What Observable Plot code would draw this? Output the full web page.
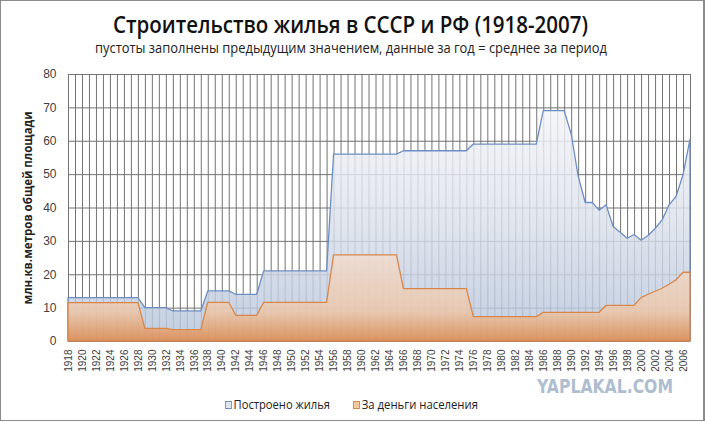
<!DOCTYPE html>
<html><head><meta charset="utf-8">
<script src="https://cdn.jsdelivr.net/npm/d3@7"></script>
<script src="https://cdn.jsdelivr.net/npm/@observablehq/plot@0.6"></script>
<style>
body{margin:0;background:#fff;}
#wrap{position:relative;width:705px;height:422px;overflow:hidden;background:#fff;font-family:"Open Sans","Liberation Sans",sans-serif;}
.abs{position:absolute;white-space:nowrap;line-height:1;}
#border{position:absolute;left:0;top:0;width:705px;height:421px;box-sizing:border-box;border:1px solid #8c8c8c;border-right-width:2px;pointer-events:none;}
.sw{display:inline-block;width:6px;height:6px;vertical-align:0px;margin-right:2px;}
</style></head><body>
<div id="wrap">
  <div id="chart" class="abs" style="left:0;top:0"></div>
  <div class="abs fit" data-x="113" data-w="475" style="top:13px;font-size:23px;font-weight:600;color:#111;">Строительство жилья в СССР и РФ (1918-2007)</div>
  <div class="abs fit" data-x="95" data-w="512" style="top:41px;font-size:14px;color:#222;">пустоты заполнены предыдущим значением,  данные за год = среднее за период</div>
  <div class="abs fit" data-x="225" data-w="105" style="top:398px;font-size:13px;color:#222;"><span class="sw" style="background:#dfe6f1;border:1px solid #6d8ec4"></span>Построено жилья</div>
  <div class="abs fit" data-x="353" data-w="125" style="top:398px;font-size:13px;color:#222;"><span class="sw" style="background:#f6c9a3;border:1px solid #d9864a"></span>За деньги населения</div>
  <div class="abs fit" data-x="537" data-w="136" style="top:377px;font-size:19px;font-weight:bold;color:#aebdd0;font-family:'DejaVu Sans',sans-serif;">YAPLAKAL.COM</div>
  <div id="border"></div>
</div>
<script>
const years = d3.range(1918, 2008);
const built = [
  13,13,13,13,13,13,13,13,13,13,13,          // 1918-1928
  10,10,10,10,                               // 1929-1932
  9,9,9,9,9,                                 // 1933-1937
  15,15,15,15,                               // 1938-1941
  14,14,14,14,                               // 1942-1945
  21,21,21,21,21,21,21,21,21,21,             // 1946-1955
  56,56,56,56,56,56,56,56,56,56,             // 1956-1965
  57,57,57,57,57,57,57,57,57,57,             // 1966-1975
  59,59,59,59,59,59,59,59,59,59,             // 1976-1985
  69,69,69,69,                               // 1986-1989
  62,49.4,41.5,41.5,39.2,40.8,34.3,32.6,30.8,31.9,30.2,31.6,33.7,36.2,40.8,43.3,49.8,60.5 // 1990-2007
];
const population = [
  11.5,11.5,11.5,11.5,11.5,11.5,11.5,11.5,11.5,11.5,11.5, // 1918-1928
  3.8,3.8,3.8,3.8,                           // 1929-1932
  3.4,3.4,3.4,3.4,3.4,                       // 1933-1937
  11.6,11.6,11.6,11.6,                       // 1938-1941
  7.7,7.7,7.7,7.7,                           // 1942-1945
  11.6,11.6,11.6,11.6,11.6,11.6,11.6,11.6,11.6,11.6, // 1946-1955
  25.8,25.8,25.8,25.8,25.8,25.8,25.8,25.8,25.8,25.8, // 1956-1965
  15.7,15.7,15.7,15.7,15.7,15.7,15.7,15.7,15.7,15.7, // 1966-1975
  7.3,7.3,7.3,7.3,7.3,7.3,7.3,7.3,7.3,7.3,   // 1976-1985
  8.6,8.6,8.6,8.6,8.6,8.6,8.6,8.6,8.6,       // 1986-1994
  10.7,10.7,10.7,10.7,10.7,                  // 1995-1999
  13.0,14.0,14.9,15.8,17.0,18.3,20.6,20.6    // 2000-2007
];
const yTicks = d3.range(0, 90, 10);
const xTicks = d3.range(1918, 2008, 2);
const yLabel = "млн.кв.метров общей площади";

const rows = years.map((year, i) => ({year, built: built[i], population: population[i]}));

const defs = () => {
  const g = d3.create("svg:defs");
  const b = g.append("linearGradient").attr("id", "gBlue").attr("x1", 0).attr("y1", 0).attr("x2", 0).attr("y2", 1);
  b.append("stop").attr("offset", "0%").attr("stop-color", "#f3f4f8");
  b.append("stop").attr("offset", "45%").attr("stop-color", "#dde2ec");
  b.append("stop").attr("offset", "100%").attr("stop-color", "#b4c3da");
  const o = g.append("linearGradient").attr("id", "gOrange").attr("x1", 0).attr("y1", 0).attr("x2", 0).attr("y2", 1);
  o.append("stop").attr("offset", "0%").attr("stop-color", "#f0dccf");
  o.append("stop").attr("offset", "65%").attr("stop-color", "#ecc7aa");
  o.append("stop").attr("offset", "100%").attr("stop-color", "#e0894a");
  return g.node();
};

const chart = Plot.plot({
  width: 705,
  height: 422,
  marginTop: 74,
  marginBottom: 81,
  marginLeft: 68,
  marginRight: 15,
  style: {fontFamily: "'Liberation Sans', Arial, sans-serif", color: "#404040", background: "transparent"},
  x: {domain: [1918, 2007]},
  y: {domain: [0, 80]},
  marks: [
    defs,
    Plot.ruleX(years, {x: d => d, stroke: "#737373", strokeWidth: 1}),
    Plot.ruleY(yTicks, {y: d => d, stroke: "#737373", strokeWidth: 1}),
    Plot.areaY(rows, {x: "year", y: "built", fill: "url(#gBlue)", fillOpacity: 0.82, stroke: "#6d8ec4", strokeWidth: 1.3}),
    Plot.areaY(rows, {x: "year", y: "population", fill: "url(#gOrange)", fillOpacity: 0.85, stroke: "#d9864a", strokeWidth: 1.3}),
    Plot.axisX(xTicks, {tickRotate: -90, tickSize: 0, tickPadding: 8, fontSize: 10, tickFormat: d => String(d), label: null}),
    Plot.axisY(yTicks, {tickSize: 0, tickPadding: 12, fontSize: 12, label: null}),
    Plot.text([yLabel], {frameAnchor: "left", textAnchor: "middle", dx: -40, rotate: -90, fontWeight: "bold", fontSize: 11.5, fill: "#222", fontFamily: "'Open Sans', sans-serif"})
  ]
});
document.getElementById("chart").appendChild(chart);

document.querySelectorAll(".fit").forEach(el => {
  el.style.transformOrigin = "left top";
  el.style.left = el.dataset.x + "px";
  const w = el.getBoundingClientRect().width;
  el.style.transform = `scaleX(${(+el.dataset.w) / w})`;
});
</script>
</body></html>
